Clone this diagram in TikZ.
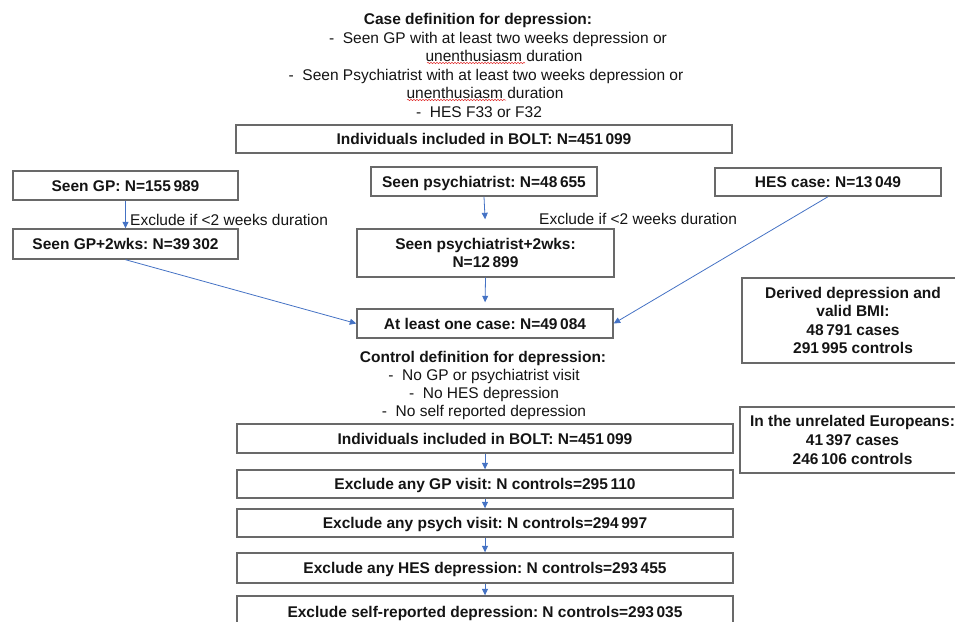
\documentclass[tikz,border=0pt]{standalone}
\usepackage{fontspec}
\setmainfont{Liberation Sans}
\usetikzlibrary{arrows.meta,decorations.pathmorphing}
\definecolor{boxgray}{RGB}{105,105,105}
\definecolor{arrblue}{RGB}{68,114,196}
\definecolor{squig}{RGB}{225,50,50}
\definecolor{ink}{RGB}{20,20,20}
\frenchspacing
\begin{document}
\begin{tikzpicture}[x=1pt,y=-1pt,
  every node/.style={font=\fontsize{15.5}{18.6}\selectfont\frenchspacing, inner sep=0pt, text=ink},
  one/.style={text height=11.1pt, text depth=0pt},
  box/.style={draw=boxgray, line width=1.4pt, font=\fontsize{15.5}{18.6}\selectfont\bfseries\frenchspacing, align=center},
  ttl/.style={one, font=\fontsize{15.5}{18.6}\selectfont\bfseries\frenchspacing},
  arr/.style={draw=arrblue, line width=0.8pt, -{Triangle[length=6.5pt,width=6pt]}},
  squiggle/.style={draw=squig, line width=0.5pt, decorate, decoration={snake, amplitude=0.7pt, segment length=3pt}}
]
\useasboundingbox (0,0) rectangle (955,621);
\clip (0,0) rectangle (955,621);

% case definition text
\node[ttl] (ct) at (478,19) {Case definition for depression:};
\node[one] (l1) at (498,38) {-\ \ Seen GP with at least two weeks depression or};
\node[one] (l2) at (504,56) {unenthusiasm duration};
\node[one] (l3) at (486,75) {-\ \ Seen Psychiatrist with at least two weeks depression or};
\node[one] (l4) at (485,93) {unenthusiasm duration};
\node[one] (l5) at (479,112) {-\ \ HES F33 or F32};
\draw[squiggle] (427,63) -- (525,63);
\draw[squiggle] (407,100) -- (506,100);

% case boxes
\node[box, one, minimum width=496pt, minimum height=28pt] (bolt1) at (484,139) {Individuals included in BOLT: N=451\,099};
\node[box, one, minimum width=225pt, minimum height=29pt] (gp) at (125.5,185.5) {Seen GP: N=155\,989};
\node[box, one, minimum width=226pt, minimum height=29pt] (psy) at (484,181.5) {Seen psychiatrist: N=48\,655};
\node[box, one, minimum width=226pt, minimum height=28pt] (hes) at (828,182) {HES case: N=13\,049};
\node[box, one, minimum width=225pt, minimum height=30pt] (gp2) at (125.5,244) {Seen GP+2wks: N=39\,302};
\node[box, minimum width=257pt, minimum height=48pt] (psy2) at (485.5,253) {Seen psychiatrist+2wks:\\N=12\,899};
\node[box, one, minimum width=256pt, minimum height=29pt] (onecase) at (485,323.5) {At least one case: N=49\,084};
\node[box, minimum width=222pt, minimum height=85pt] (derived) at (853,320.5) {Derived depression and\\valid BMI:\\48\,791 cases\\291\,995 controls};
\node[box, minimum width=225pt, minimum height=66pt] (unrel) at (852.5,440) {In the unrelated Europeans:\\41\,397 cases\\246\,106 controls};

\node[one, anchor=west] (ex1) at (130,220) {Exclude if <2 weeks duration};
\node[one, anchor=west] (ex2) at (539,219) {Exclude if <2 weeks duration};

\draw[arr] (gp.south) -- (gp2.north);
\draw[arr, shorten >=9pt] (psy.south) -- (psy2.north);
\draw[arr, shorten >=6pt] (psy2.south) -- (onecase.north);
\draw[arr] (gp2.south) -- (onecase.west);
\draw[arr] (hes.south) -- (onecase.east);

% control definition text
\node[ttl] (cdt) at (483,357) {Control definition for depression:};
\node[one] (m1) at (484,375) {-\ \ No GP or psychiatrist visit};
\node[one] (m2) at (484,393) {-\ \ No HES depression};
\node[one] (m3) at (484,411) {-\ \ No self reported depression};

% control boxes
\node[box, one, minimum width=496pt, minimum height=29pt] (c1) at (485,438.5) {Individuals included in BOLT: N=451\,099};
\node[box, one, minimum width=496pt, minimum height=28pt] (c2) at (485,484) {Exclude any GP visit: N controls=295\,110};
\node[box, one, minimum width=496pt, minimum height=28pt] (c3) at (485,523) {Exclude any psych visit: N controls=294\,997};
\node[box, one, minimum width=496pt, minimum height=30pt] (c4) at (485,568) {Exclude any HES depression: N controls=293\,455};
\node[box, one, minimum width=496pt, minimum height=32pt] (c5) at (485,612) {Exclude self-reported depression: N controls=293\,035};

\draw[arr] (c1.south) -- (c2.north);
\draw[arr] (c2.south) -- (c3.north);
\draw[arr] (c3.south) -- (c4.north);
\draw[arr] (c4.south) -- (c5.north);
\end{tikzpicture}
\end{document}
